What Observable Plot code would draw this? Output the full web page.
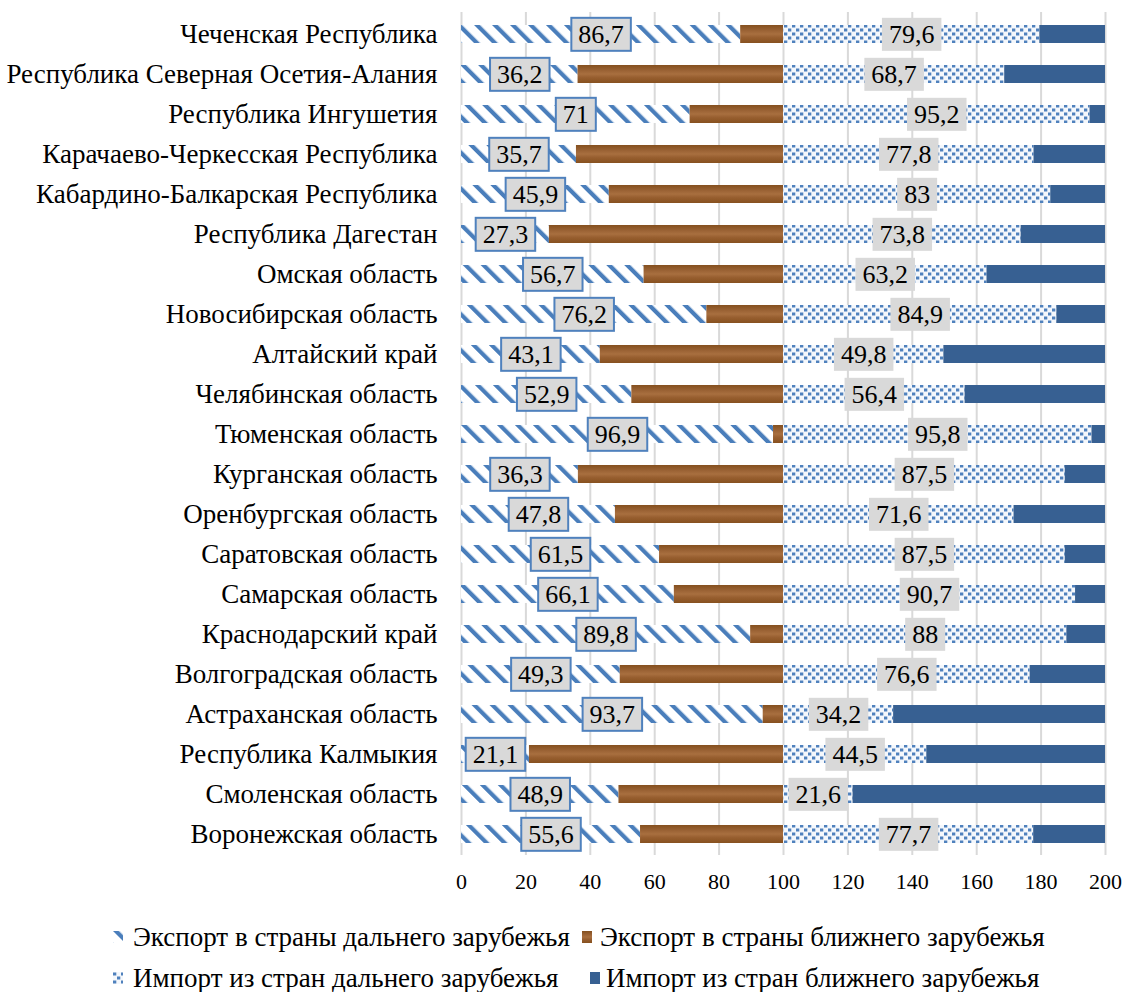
<!DOCTYPE html>
<html><head><meta charset="utf-8">
<script src="https://cdn.jsdelivr.net/npm/d3@7"></script>
<script src="https://cdn.jsdelivr.net/npm/@observablehq/plot@0.6"></script>
<style>
body{margin:0;background:#fff;font-family:"Liberation Serif","Times New Roman",serif;color:#000;}
#chart svg, #chart svg text{font-family:"Liberation Serif","Times New Roman",serif !important;font-variant:normal !important;font-variant-numeric:normal !important;}
#legend{position:relative;width:1124px;height:92px;font-size:27px;}
.item{position:absolute;display:flex;align-items:center;white-space:nowrap;height:30px;}
</style></head><body>
<div id="chart"></div>
<div id="legend"></div>
<script>
const regions = [
  "Чеченская Республика",
  "Республика Северная Осетия-Алания",
  "Республика Ингушетия",
  "Карачаево-Черкесская Республика",
  "Кабардино-Балкарская Республика",
  "Республика Дагестан",
  "Омская область",
  "Новосибирская область",
  "Алтайский край",
  "Челябинская область",
  "Тюменская область",
  "Курганская область",
  "Оренбургская область",
  "Саратовская область",
  "Самарская область",
  "Краснодарский край",
  "Волгоградская область",
  "Астраханская область",
  "Республика Калмыкия",
  "Смоленская область",
  "Воронежская область"
];
const exportFar = [86.7, 36.2, 71, 35.7, 45.9, 27.3, 56.7, 76.2, 43.1, 52.9, 96.9, 36.3, 47.8, 61.5, 66.1, 89.8, 49.3, 93.7, 21.1, 48.9, 55.6];
const importFar = [79.6, 68.7, 95.2, 77.8, 83, 73.8, 63.2, 84.9, 49.8, 56.4, 95.8, 87.5, 71.6, 87.5, 90.7, 88, 76.6, 34.2, 44.5, 21.6, 77.7];
const xTicks = [0, 20, 40, 60, 80, 100, 120, 140, 160, 180, 200];
const seriesNames = [
  "Экспорт в страны дальнего зарубежья",
  "Экспорт в страны ближнего зарубежья",
  "Импорт из стран дальнего зарубежья",
  "Импорт из стран ближнего зарубежья"
];
const seriesFills = ["url(#expFar)", "url(#expNear)", "url(#impFar)", "#376092"];

// stacked segments: each half sums to 100
const rows = regions.map((r, i) => ({
  region: r,
  ef: exportFar[i],
  en: 100 - exportFar[i],
  imf: importFar[i],
  imn: 100 - importFar[i]
}));
const fmt = v => String(v).replace(".", ",");
const serif = "Liberation Serif";

const plot = Plot.plot({
  width: 1124,
  height: 900,
  marginLeft: 461,
  marginRight: 19,
  marginTop: 12,
  marginBottom: 45,
  style: {fontFamily: serif, fontSize: "22px", color: "#000", background: "#fff"},
  x: {domain: [0, 200], label: null, axis: null},
  y: {domain: regions, paddingInner: 0.56, paddingOuter: 0.28, label: null, axis: null},
  marks: [
    Plot.gridX(xTicks, {stroke: "#d9d9d9", strokeWidth: 2, strokeOpacity: 1}),
    Plot.axisX(xTicks, {tickSize: 0, tickPadding: 18, fontSize: 22, fontFamily: serif, fontVariant: "normal", label: null, tickFormat: d => String(d)}),
    Plot.axisY({tickSize: 0, tickPadding: 24, fontSize: 27, fontFamily: serif, label: null}),
    Plot.barX(rows, {y: "region", x1: 0, x2: "ef", fill: seriesFills[0]}),
    Plot.barX(rows, {y: "region", x1: "ef", x2: 100, fill: seriesFills[1]}),
    Plot.barX(rows, {y: "region", x1: 100, x2: d => 100 + d.imf, fill: seriesFills[2]}),
    Plot.barX(rows, {y: "region", x1: d => 100 + d.imf, x2: 200, fill: seriesFills[3]}),
    Plot.text(rows, {y: "region", x: d => d.ef / 2, text: d => fmt(d.ef), fontSize: 26, fontFamily: serif, fontVariant: "normal", fill: "#000"}),
    Plot.text(rows, {y: "region", x: d => 100 + d.imf / 2, text: d => fmt(d.imf), fontSize: 26, fontFamily: serif, fontVariant: "normal", fill: "#000"})
  ]
});
document.getElementById("chart").appendChild(plot);

const svg = d3.select(plot);
const defs = svg.insert("defs", ":first-child");
// diagonal stripes
const p1 = defs.append("pattern").attr("id", "expFar").attr("patternUnits", "userSpaceOnUse")
  .attr("width", 12.7).attr("height", 12.7).attr("patternTransform", "rotate(-45)");
p1.append("rect").attr("width", 12.7).attr("height", 12.7).attr("fill", "#fff");
p1.append("rect").attr("width", 4.2).attr("height", 12.7).attr("fill", "#4a7ebb");
// wood-like brown
const g = defs.append("linearGradient").attr("id", "woodGrad").attr("x1", 0).attr("y1", 0).attr("x2", 0).attr("y2", 1);
[["0%", "#84501f"], ["30%", "#9a6234"], ["50%", "#a86f3f"], ["70%", "#975e2f"], ["100%", "#87511f"]]
  .forEach(([o, c]) => g.append("stop").attr("offset", o).attr("stop-color", c));
const p2 = defs.append("pattern").attr("id", "expNear").attr("patternUnits", "objectBoundingBox")
  .attr("patternContentUnits", "objectBoundingBox").attr("width", 1).attr("height", 1);
p2.append("rect").attr("width", 1).attr("height", 1).attr("fill", "url(#woodGrad)");
// dots
const p3 = defs.append("pattern").attr("id", "impFar").attr("patternUnits", "userSpaceOnUse")
  .attr("width", 8).attr("height", 8);
p3.append("rect").attr("width", 8).attr("height", 8).attr("fill", "#f5f8fc");
p3.append("rect").attr("x", 0).attr("y", 0.5).attr("width", 3.3).attr("height", 3).attr("fill", "#4f81bd");
p3.append("rect").attr("x", 4).attr("y", 4.5).attr("width", 3.3).attr("height", 3).attr("fill", "#4f81bd");

const textGroups = svg.selectAll('g[aria-label="text"]').nodes();
function boxes(group, stroke) {
  if (!group) return;
  d3.select(group).selectAll("text").each(function() {
    const bb = this.getBBox();
    const cy = bb.y + bb.height / 2;
    const r = document.createElementNS("http://www.w3.org/2000/svg", "rect");
    const tr = this.getAttribute("transform");
    if (tr) r.setAttribute("transform", tr);
    r.setAttribute("x", bb.x - 7);
    r.setAttribute("y", cy - 16.5);
    r.setAttribute("width", bb.width + 14);
    r.setAttribute("height", 33);
    r.setAttribute("fill", "#d9d9d9");
    if (stroke) { r.setAttribute("stroke", stroke); r.setAttribute("stroke-width", 2); }
    this.parentNode.insertBefore(r, this);
  });
}
boxes(textGroups[0], "#4f81bd");
boxes(textGroups[1], null);

// legend
const legendPos = [[113, 22, 10], [582, 22, 8], [113, 63, 10], [590, 63, 6]];
const leg = d3.select("#legend");
seriesNames.forEach((name, i) => {
  const it = leg.append("div").attr("class", "item").style("left", legendPos[i][0] + "px").style("top", legendPos[i][1] + "px");
  const s = it.append("svg").attr("width", 10).attr("height", 12).style("margin-right", legendPos[i][2] + "px");
  s.append("rect").attr("width", 10).attr("height", 12).attr("fill", seriesFills[i]);
  it.append("span").text(name);
});
</script>
</body></html>
